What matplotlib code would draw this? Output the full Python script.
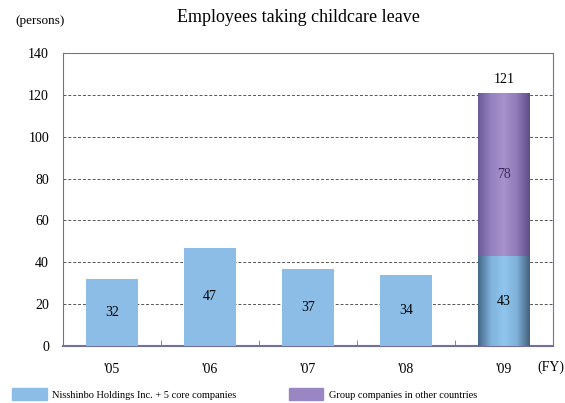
import numpy as np
import matplotlib.pyplot as plt
from matplotlib.patches import Patch
from matplotlib.colors import LinearSegmentedColormap

plt.rcParams['font.family'] = ['Liberation Serif', 'DejaVu Serif']

years = ["'05", "'06", "'07", "'08", "'09"]
core = [32, 47, 37, 34, 43]
overseas = [0, 0, 0, 0, 78]
totals = [None, None, None, None, 121]
shaded = [False, False, False, False, True]  # the '09 bar is drawn as a shaded cylinder

blue = '#8cbde6'
purple = '#9a86c2'
spine_col = '#6f6fa0'

blue_cyl = LinearSegmentedColormap.from_list('bc', ['#46688a', '#7fb2dc', '#90c6ee', '#7fb0d8', '#44627f'])
purple_cyl = LinearSegmentedColormap.from_list('pc', ['#6a5a98', '#9580c0', '#a892cc', '#907ab8', '#5e4f86'])

fig = plt.figure(figsize=(5.65, 4.03), dpi=100)
ax = fig.add_axes([0.1115, 0.1414, 0.8673, 0.7271])

x = np.arange(len(years))
w = 0.53
b1 = ax.bar(x, core, width=w, color=blue, zorder=3)
b2 = ax.bar(x, overseas, width=w, bottom=core, color=purple, zorder=3)

grad = np.linspace(0, 1, 100).reshape(1, -1)
for i in range(len(years)):
    if not shaded[i]:
        continue
    for bar, cmap in ((b1[i], blue_cyl), (b2[i], purple_cyl)):
        x0, y0 = bar.get_x(), bar.get_y()
        im = ax.imshow(grad, cmap=cmap, aspect='auto', zorder=3.5,
                       extent=(x0, x0 + bar.get_width(), y0, y0 + bar.get_height()))
        im.set_clip_path(bar)

for i in range(len(years)):
    ax.text(x[i], core[i] / 2, str(core[i]), ha='center', va='center', fontsize=10, zorder=4)
    if overseas[i]:
        ax.text(x[i], core[i] + overseas[i] / 2, str(overseas[i]), ha='center', va='center',
                fontsize=10, color='#3a2a5a', zorder=4)
    if totals[i]:
        ax.text(x[i], totals[i] + 3, str(totals[i]), ha='center', va='bottom', fontsize=10)

ax.set_xlim(-0.5, len(years) - 0.5)
ax.set_ylim(0, 140)
ax.set_yticks(range(0, 141, 20))
ax.set_xticks(x)
ax.set_xticklabels(years)
ax.set_xticks(np.arange(0.5, len(years) - 1, 1), minor=True)
ax.tick_params(axis='x', which='major', length=0, pad=12, labelsize=10)
ax.tick_params(axis='x', which='minor', length=4, direction='in', color=spine_col)
ax.tick_params(axis='y', length=0, pad=10, labelsize=10)
for s in ax.spines.values():
    s.set_color(spine_col)
ax.spines['bottom'].set_linewidth(1.5)
ax.yaxis.grid(True, linestyle=(0, (3, 2)), color='#555555', linewidth=0.7, zorder=0)
ax.set_axisbelow(True)

fig.text(0.529, 0.957, 'Employees taking childcare leave', ha='center', va='center', fontsize=13)
fig.text(0.027, 0.948, '(persons)', ha='left', va='center', fontsize=9.5)
fig.text(0.951, 0.088, '(FY)', ha='left', va='center', fontsize=10)

handles = [Patch(color=blue), Patch(color=purple)]
labels = ['Nisshinbo Holdings Inc. + 5 core companies', 'Group companies in other countries']
fig.legend(handles=[handles[0]], labels=[labels[0]], loc='center left', bbox_to_anchor=(0.005, 0.022),
           frameon=False, fontsize=7.5, handlelength=3.3, handleheight=1.5, handletextpad=0.5)
fig.legend(handles=[handles[1]], labels=[labels[1]], loc='center left', bbox_to_anchor=(0.495, 0.022),
           frameon=False, fontsize=7.5, handlelength=3.3, handleheight=1.5, handletextpad=0.5)

fig.savefig('out.png', dpi=100)
